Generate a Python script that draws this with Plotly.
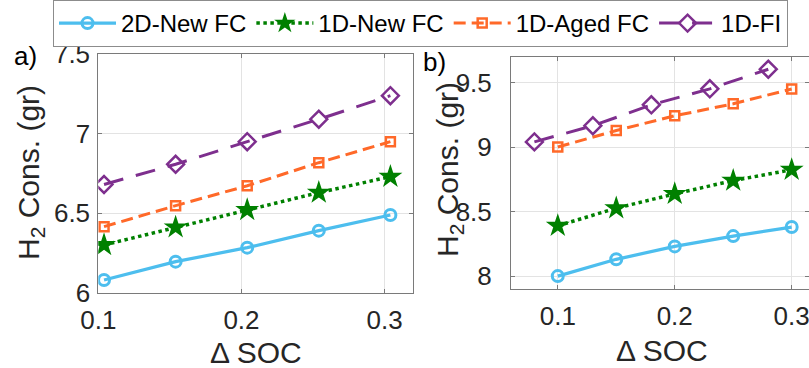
import plotly.graph_objects as go

# ---- data ----
series_names = ["2D-New FC", "1D-New FC", "1D-Aged FC", "1D-FI"]

# panel a)
x_a = [0.104, 0.154, 0.204, 0.254, 0.304]
a_2d_new = [6.08, 6.195, 6.283, 6.39, 6.488]
a_1d_new = [6.30, 6.411, 6.52, 6.629, 6.729]
a_1d_aged = [6.415, 6.547, 6.672, 6.817, 6.949]
a_1d_fi = [6.68, 6.807, 6.949, 7.09, 7.238]

# panel b)
x_b = [0.10, 0.15, 0.20, 0.25, 0.30]
x_b_fi = [0.08, 0.13, 0.18, 0.23, 0.28]
b_2d_new = [8.0, 8.13, 8.23, 8.31, 8.38]
b_1d_new = [8.39, 8.526, 8.637, 8.74, 8.824]
b_1d_aged = [9.0, 9.128, 9.242, 9.335, 9.45]
b_1d_fi = [9.04, 9.165, 9.327, 9.451, 9.603]

x_ticks = [0.1, 0.2, 0.3]
ya_ticks = [6, 6.5, 7, 7.5]
ya_labels = ["6", "6.5", "7", "7.5"]
yb_ticks = [8, 8.5, 9, 9.5]
yb_labels = ["8", "8.5", "9", "9.5"]

# ---- styles ----
W, H = 809, 368
FONT = "Liberation Sans, Arial, sans-serif"
BLUE = "#4DBEEE"
GREEN = "#008000"
ORANGE = "#FF6929"
PURPLE = "#7E2F8E"

styles = [
    dict(line=dict(color=BLUE, width=3.2, dash="solid"),
         marker=dict(symbol="circle-open", size=11, color=BLUE, line=dict(width=3, color=BLUE))),
    dict(line=dict(color=GREEN, width=3.5, dash="dot"),
         marker=dict(symbol="star", size=18, color=GREEN, line=dict(width=0))),
    dict(line=dict(color=ORANGE, width=3, dash="12px,6px"),
         marker=dict(symbol="square-open", size=9, color=ORANGE, line=dict(width=2.5, color=ORANGE))),
    dict(line=dict(color=PURPLE, width=3, dash="20px,13px"),
         marker=dict(symbol="diamond-open", size=13, color=PURPLE, line=dict(width=2.5, color=PURPLE))),
]

fig = go.Figure()
a_data = [(x_a, a_2d_new), (x_a, a_1d_new), (x_a, a_1d_aged), (x_a, a_1d_fi)]
b_data = [(x_b, b_2d_new), (x_b, b_1d_new), (x_b, b_1d_aged), (x_b_fi, b_1d_fi)]

for i, (xs, ys) in enumerate(a_data):
    fig.add_trace(go.Scatter(x=xs, y=ys, mode="lines+markers", name=series_names[i],
                             showlegend=True, xaxis="x", yaxis="y", **styles[i]))
for i, (xs, ys) in enumerate(b_data):
    fig.add_trace(go.Scatter(x=xs, y=ys, mode="lines+markers", name=series_names[i],
                             showlegend=False, xaxis="x2", yaxis="y2", **styles[i]))

axis_common = dict(showline=True, linecolor="#7a7a7a", linewidth=1, mirror="ticks",
                   ticks="inside", ticklen=4, tickcolor="#7a7a7a",
                   showgrid=True, gridcolor="#e3e3e3", gridwidth=1, zeroline=False,
                   automargin=False, ticklabeloverflow="allow",
                   tickfont=dict(family=FONT, size=26, color="#262626"))


def px_x(p):
    return p / W


def px_y(p):
    return 1 - p / H


fig.update_layout(
    width=W, height=H,
    margin=dict(l=0, r=0, t=0, b=0, pad=0, autoexpand=False),
    paper_bgcolor="white", plot_bgcolor="white",
    font=dict(family=FONT, color="#262626"),
    xaxis=dict(domain=[px_x(98.3), px_x(413.3)], range=[0.1, 0.32], tickvals=x_ticks,
               ticktext=["0.1", "0.2", "0.3"], anchor="y", ticklabelstandoff=4, **axis_common),
    yaxis=dict(domain=[px_y(292.7), px_y(54)], range=[6, 7.5], tickvals=ya_ticks,
               ticktext=ya_labels, anchor="x", ticklabelstandoff=2, **axis_common),
    xaxis2=dict(domain=[px_x(511), 1.0], range=[0.06, 0.3148], tickvals=x_ticks,
                ticktext=["0.1", "0.2", "0.3"], anchor="y2", ticklabelstandoff=4, **axis_common),
    yaxis2=dict(domain=[px_y(289), px_y(56.7)], range=[7.9, 9.7], tickvals=yb_ticks,
                ticktext=yb_labels, anchor="x2", ticklabelstandoff=13, **axis_common),
    legend=dict(orientation="h", x=px_x(53), y=1.0, xanchor="left", yanchor="top",
                font=dict(family=FONT, size=24, color="#000000"),
                bordercolor="#8c8c8c", borderwidth=1, bgcolor="white",
                itemwidth=57),
    showlegend=True,
)

ann = [
    dict(text="a)", x=px_x(12), y=px_y(56), xanchor="left", yanchor="middle"),
    dict(text="b)", x=px_x(421), y=px_y(62), xanchor="left", yanchor="middle"),
]
for a in ann:
    fig.add_annotation(xref="paper", yref="paper", showarrow=False,
                       font=dict(family=FONT, size=26, color="#000000"), **a)

titles = [
    dict(text="H<sub>2</sub> Cons. (gr)", x=px_x(31), y=px_y(173), textangle=-90),
    dict(text="H<sub>2</sub> Cons. (gr)", x=px_x(450), y=px_y(170), textangle=-90),
    dict(text="\u0394 SOC", x=px_x(256), y=px_y(352), textangle=0),
    dict(text="\u0394 SOC", x=px_x(662), y=px_y(350), textangle=0),
]
for t in titles:
    fig.add_annotation(xref="paper", yref="paper", showarrow=False, xanchor="center",
                       yanchor="middle", font=dict(family=FONT, size=30, color="#262626"), **t)

fig.write_html("out.html")
